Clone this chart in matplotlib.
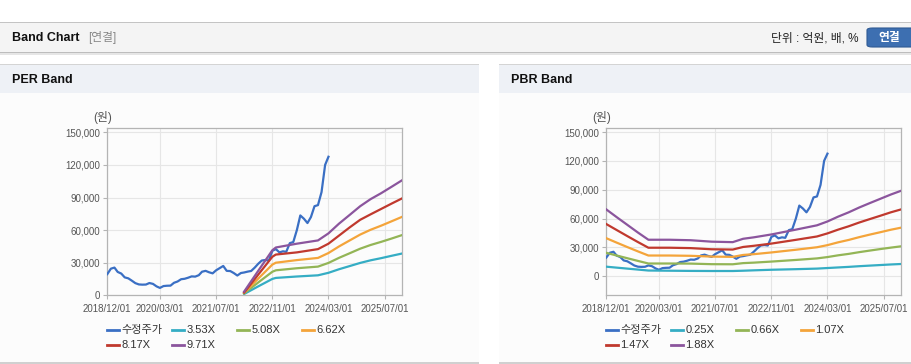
import pandas as pd
import matplotlib
matplotlib.use("Agg")
import matplotlib.pyplot as plt
from matplotlib.patches import Rectangle, FancyBboxPatch
from matplotlib.lines import Line2D
from matplotlib.ticker import FuncFormatter

plt.rcParams['font.family'] = ['Liberation Sans', 'Noto Sans CJK KR', 'DejaVu Sans']

# price (수정주가), monthly 2018/12 .. 2024/03
price_dates = pd.date_range("2018-12-01", "2024-03-01", freq="MS")
price = [19500, 24500, 25500, 21500, 20000, 16500, 15600, 13500, 11200, 10000,
         9800, 9900, 11300, 10500, 8200, 6800, 8500, 8800, 8900, 11500,
         12700, 14800, 15200, 16200, 17400, 17200, 18500, 21700, 22500, 21200,
         20200, 23000, 25000, 27000, 22500, 22300, 20500, 18200, 20500, 21000,
         21800, 22400, 25500, 29000, 32000, 32500, 32000, 41000, 42500, 39500,
         40500, 40000, 48000, 49000, 60000, 73500, 70500, 66500, 72000, 82000,
         83000, 95000, 120000, 127500]

# PER band
per_dates = pd.to_datetime(["2022-03-01", "2022-07-01", "2022-11-01", "2022-12-01",
                            "2023-06-01", "2023-12-01", "2024-03-01", "2024-06-01",
                            "2024-09-01", "2024-12-01", "2025-03-01", "2025-06-01",
                            "2025-09-01", "2025-12-01"])
per_labels = ["3.53X", "5.08X", "6.62X", "8.17X", "9.71X"]
per_353 = [1200, 8200, 15100, 16000, 17300, 18400, 20700, 24000, 26900, 29800, 32200, 34200, 36400, 38500]
per_508 = [1800, 11800, 21700, 23000, 24900, 26400, 29800, 34500, 38700, 42900, 46300, 49200, 52300, 55500]
per_662 = [2300, 15300, 28300, 30000, 32400, 34400, 38900, 45000, 50500, 55900, 60300, 64100, 68200, 72300]
per_817 = [2500, 19000, 35500, 37500, 39500, 42500, 47500, 55000, 62500, 69500, 74500, 79500, 84500, 89300]
per_971 = [3400, 22500, 41500, 44000, 47500, 50500, 57000, 66000, 74000, 82000, 88500, 94000, 100000, 106000]

# PBR band
pbr_dates = pd.to_datetime(["2018-12-01", "2019-03-01", "2019-06-01", "2019-09-01",
                            "2019-12-01", "2020-06-01", "2020-12-01", "2021-06-01",
                            "2021-12-01", "2022-03-01", "2022-06-01", "2022-11-01",
                            "2023-06-01", "2023-12-01", "2024-03-01", "2024-06-01",
                            "2024-09-01", "2024-12-01", "2025-03-01", "2025-06-01",
                            "2025-09-01", "2025-12-01"])
pbr_labels = ["0.25X", "0.66X", "1.07X", "1.47X", "1.88X"]
pbr_025 = [10000, 9000, 8000, 7000, 6000, 5800, 5600, 5500, 5500, 5800, 6200,
           6800, 7400, 8000, 8600, 9200, 9800, 10500, 11100, 11700, 12300, 12800]
pbr_066 = [24400, 21600, 18800, 16000, 13300, 13300, 13200, 12600, 12500, 13700, 14200,
           15300, 17000, 18600, 20000, 21800, 23300, 25100, 26700, 28300, 29800, 31200]
pbr_107 = [39600, 35000, 30400, 25900, 21600, 21600, 21300, 20500, 20200, 22200, 23000,
           24800, 27600, 30200, 32400, 35300, 37800, 40700, 43300, 45800, 48400, 50600]
pbr_147 = [54300, 48100, 41800, 35600, 29700, 29700, 29300, 28100, 27800, 30500, 31700,
           34000, 37900, 41400, 44600, 48500, 52000, 55900, 59400, 62900, 66500, 69600]
pbr_188 = [69500, 61500, 53500, 45500, 38000, 38000, 37500, 36000, 35500, 39000, 40500,
           43500, 48500, 53000, 57000, 62000, 66500, 71500, 76000, 80500, 85000, 89000]

xtick_labels = ["2018/12/01", "2020/03/01", "2021/07/01", "2022/11/01", "2024/03/01", "2025/07/01"]
yticks = [0, 30000, 60000, 90000, 120000, 150000]

price_color = "#3a6fc4"
band_colors = ["#35adc4", "#93b556", "#f4a43a", "#c0392e", "#8b559d"]

W, H = 912, 364
fig = plt.figure(figsize=(W / 100, H / 100), dpi=100)
fig.patch.set_facecolor("white")


def rect(x0, y0, x1, y1, color, z=0):
    fig.add_artist(Rectangle((x0 / W, 1 - y1 / H), (x1 - x0) / W, (y1 - y0) / H,
                             transform=fig.transFigure, facecolor=color,
                             edgecolor="none", zorder=z))


def ftext(x, y, s, **kw):
    fig.text(x / W, 1 - y / H, s, **kw)


# page header
rect(0, 22, W, 23, "#c4c4c4")
rect(0, 23, W, 52, "#f4f4f4")
rect(0, 52, W, 53, "#bdbdbd")
rect(0, 53, W, 55, "#e6e6e6")
ftext(12, 38, "Band Chart", fontsize=9, fontweight="bold", va="center", color="#111111")
ftext(88, 38, "[연결]", fontsize=8.5, va="center", color="#888888")
ftext(859, 38.5, "단위 : 억원, 배, %", fontsize=8.5, va="center", ha="right", color="#222222")
fig.add_artist(FancyBboxPatch((867 / W, 1 - 47 / H), 50 / W, 19 / H,
                              boxstyle="round,pad=0,rounding_size=0.006",
                              transform=fig.transFigure, facecolor="#3d6fb1",
                              edgecolor="#2f5a94", lw=0.8))
ftext(889, 38, "연결", fontsize=8.5, va="center", ha="center", color="white", fontweight="bold")

# panels
for x0, x1, title in [(0, 479, "PER Band"), (499, W, "PBR Band")]:
    rect(x0, 64, x1, 65, "#d4d4d4")
    rect(x0, 65, x1, 93, "#eef1f6")
    rect(x0, 93, x1, 362, "#fcfcfc")
    rect(x0, 362, x1, 364, "#d0d0d0")
    ftext(x0 + 12, 80, title, fontsize=9, fontweight="bold", va="center", color="#111111")


def draw_panel(left, band_dates, bands, labels, ylim):
    ax = fig.add_axes([left / W, 1 - 295.3 / H, 295 / W, 167 / H])
    ax.set_facecolor("none")
    ax.plot(price_dates, price, color=price_color, lw=1.6, zorder=3)
    for vals, c in zip(bands, band_colors):
        ax.plot(band_dates, vals, color=c, lw=1.6, zorder=3)
    ax.set_xlim(pd.Timestamp("2018-12-01"), pd.Timestamp("2025-12-01"))
    ax.set_ylim(*ylim)
    ax.set_yticks(yticks)
    ax.yaxis.set_major_formatter(FuncFormatter(lambda v, p: f"{int(v):,}"))
    ax.set_xticks(pd.to_datetime(xtick_labels))
    ax.set_xticklabels(xtick_labels)
    ax.grid(True, color="#e6e6e6", lw=0.8, zorder=0)
    for s in ax.spines.values():
        s.set_color("#b4b4b4")
        s.set_linewidth(0.9)
    ax.tick_params(axis="both", labelsize=7, colors="#555555", length=3, width=0.8,
                   pad=2, color="#b4b4b4")
    ax.tick_params(axis="x", pad=3)
    ftext(left - 5, 117, "(원)", fontsize=8.5, ha="center", va="center", color="#555555")

    # legend, 4 columns
    names = ["수정주가"] + labels
    colors = [price_color] + band_colors
    for k, (name, c) in enumerate(zip(names, colors)):
        lx = left + (k % 4) * 65
        ly = 330 + (k // 4) * 14.5
        fig.add_artist(Line2D([lx / W, (lx + 12) / W], [1 - ly / H, 1 - ly / H],
                              transform=fig.transFigure, color=c, lw=2))
        ftext(lx + 14, ly, name, fontsize=8, va="center", color="#333333")
    return ax


draw_panel(107.3, per_dates, [per_353, per_508, per_662, per_817, per_971], per_labels,
           (0, 153700))
draw_panel(606.3, pbr_dates, [pbr_025, pbr_066, pbr_107, pbr_147, pbr_188], pbr_labels,
           (-19750, 153850))

fig.savefig("out.png", dpi=100)
